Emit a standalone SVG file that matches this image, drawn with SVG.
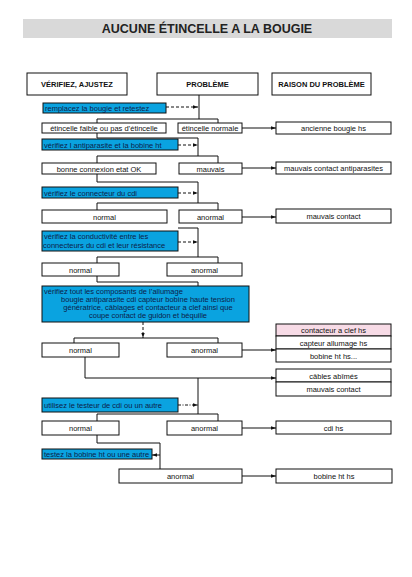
<svg xmlns="http://www.w3.org/2000/svg" width="412" height="577" viewBox="0 0 412 577">
<defs>
<style>
text{font-family:"Liberation Sans",Arial,sans-serif;font-size:7.5px;fill:#111}
.t{font-size:12.5px;font-weight:bold;text-anchor:middle;fill:#222}
.h{font-size:7.5px;font-weight:bold;text-anchor:middle}
.c{text-anchor:middle}
.bt{fill:#0c1d4a}
.box{fill:#fff;stroke:#111;stroke-width:1}
.blue{fill:#0aa3e0;stroke:#111;stroke-width:1}
.pink{fill:#f7dbe6;stroke:#111;stroke-width:1}
.ln{fill:none;stroke:#111;stroke-width:1}
.ds{fill:none;stroke:#111;stroke-width:1;stroke-dasharray:3,2}
</style>
<marker id="ar" viewBox="0 0 6 6" refX="6" refY="3" markerWidth="5" markerHeight="5" orient="auto" markerUnits="userSpaceOnUse">
<path d="M0,1 L6,3 L0,5 z" fill="#111"/>
</marker>
</defs>
<rect width="412" height="577" fill="#fff"/>
<g id="title"><rect x="23" y="19" width="369" height="19" fill="#d9d9d9"/><text class="t" x="207" y="33">AUCUNE ÉTINCELLE A LA BOUGIE</text></g>
<g id="h1"><rect class="box" x="27" y="73" width="100" height="22"/><text class="h" x="77" y="87">VÉRIFIEZ, AJUSTEZ</text></g>
<g id="h2"><rect class="box" x="157" y="73" width="101" height="22"/><text class="h" x="207.5" y="87">PROBLÈME</text></g>
<g id="h3"><rect class="box" x="272" y="73" width="99" height="22"/><text class="h" x="321.5" y="87">RAISON DU PROBLÈME</text></g>

<g id="connectors">
<path class="ln" d="M199,95 V119 M97,119 H218 M97,119 V123 M218,119 V123"/>
<path class="ds" d="M166,107 H198" marker-end="url(#ar)"/>
<path class="ln" d="M242,128 H276" marker-end="url(#ar)"/>
<path class="ln" d="M97,133 V138 H198 V156 M97,156 H218 M97,156 V163 M218,156 V163"/>
<path class="ds" d="M178,145 H198" marker-end="url(#ar)"/>
<path class="ln" d="M242,168 H276" marker-end="url(#ar)"/>
<path class="ln" d="M97,174 V182 H198 V203 M97,203 H218 M97,203 V210 M218,203 V210"/>
<path class="ds" d="M178,193 H198" marker-end="url(#ar)"/>
<path class="ln" d="M242,217 H276" marker-end="url(#ar)"/>
<path class="ln" d="M178,228 H198 V257 M97,257 H218 M97,257 V263 M218,257 V263"/>
<path class="ds" d="M178,242 H198" marker-end="url(#ar)"/>
<path class="ln" d="M97,276 V282 H198 V286"/>
<path class="ds" d="M143,322 V338" marker-end="url(#ar)"/>
<path class="ln" d="M74,338 H218 M74,338 V343 M218,338 V343"/>
<path class="ln" d="M242,350 H276" marker-end="url(#ar)"/>
<path class="ln" d="M85,357 V378 H276" marker-end="url(#ar)"/>
<path class="ln" d="M198,378 V414 M97,414 H218 M97,414 V421 M218,414 V421"/>
<path class="ds" d="M178,405 H198" marker-end="url(#ar)" style="stroke-dasharray:3,1.5,1,1.5"/>
<path class="ln" d="M242,428 H276" marker-end="url(#ar)"/>
<path class="ln" d="M97,435 V443 H160 V469"/>
<path class="ln" d="M160,455 H152" marker-end="url(#ar)"/>
<path class="ln" d="M242,476 H276" marker-end="url(#ar)"/>
</g>

<g id="b1"><rect class="blue" x="43" y="103" width="123" height="10"/><text class="bt" x="45" y="111">remplacez la bougie et retestez</text></g>
<g id="r1a"><rect class="box" x="42" y="123" width="124" height="10"/><text class="c" x="104" y="131">étincelle faible ou pas d’étincelle</text></g>
<g id="r1b"><rect class="box" x="178" y="123" width="64" height="10"/><text class="c" x="210" y="131">étincelle normale</text></g>
<g id="res1"><rect class="box" x="276" y="122" width="115" height="12"/><text class="c" x="333.5" y="131">ancienne bougie hs</text></g>

<g id="b2"><rect class="blue" x="42" y="139" width="136" height="11"/><text class="bt" x="44" y="147.5">vérifiez l antiparasite et la bobine ht</text></g>
<g id="r2a"><rect class="box" x="42" y="163" width="114" height="11"/><text class="c" x="99" y="171.5">bonne connexion etat OK</text></g>
<g id="r2b"><rect class="box" x="179" y="163" width="63" height="11"/><text class="c" x="210.5" y="171.5">mauvais</text></g>
<g id="res2"><rect class="box" x="276" y="162" width="115" height="12"/><text class="c" x="333.5" y="171">mauvais contact antiparasites</text></g>

<g id="b3"><rect class="blue" x="42" y="187" width="136" height="11"/><text class="bt" x="44" y="195.5">vérifiez le connecteur du cdi</text></g>
<g id="r3a"><rect class="box" x="42" y="210" width="125" height="13"/><text class="c" x="104.5" y="219.5">normal</text></g>
<g id="r3b"><rect class="box" x="179" y="210" width="63" height="13"/><text class="c" x="210.5" y="219.5">anormal</text></g>
<g id="res3"><rect class="box" x="276" y="209" width="115" height="14"/><text class="c" x="333.5" y="219">mauvais contact</text></g>

<g id="b4"><rect class="blue" x="42" y="231" width="136" height="20"/><text class="bt" x="44" y="239">vérifiez la conductivité entre les</text><text class="bt" x="43" y="248">connecteurs du cdi et leur résistance</text></g>
<g id="r4a"><rect class="box" x="42" y="263" width="77" height="13"/><text class="c" x="80.5" y="272.5">normal</text></g>
<g id="r4b"><rect class="box" x="167" y="263" width="75" height="13"/><text class="c" x="204.5" y="272.5">anormal</text></g>

<g id="b5"><rect class="blue" x="42" y="286" width="207" height="36"/>
<text class="bt" x="44" y="293.5">vérifiez tout les composants de l’allumage</text>
<text class="bt c" x="148" y="301.5">bougie antiparasite cdi capteur bobine haute tension</text>
<text class="bt c" x="148" y="309.5">génératrice, câblages et contacteur a clef ainsi que</text>
<text class="bt c" x="148" y="317.5">coupe contact de guidon et béquille</text></g>
<g id="r5a"><rect class="box" x="42" y="343" width="77" height="14"/><text class="c" x="80.5" y="353">normal</text></g>
<g id="r5b"><rect class="box" x="167" y="343" width="75" height="14"/><text class="c" x="204.5" y="353">anormal</text></g>
<g id="res5"><rect class="pink" x="276" y="324" width="115" height="12"/><rect class="box" x="276" y="336" width="115" height="13"/><rect class="box" x="276" y="349" width="115" height="13"/>
<text class="c" x="333.5" y="333">contacteur a clef hs</text><text class="c" x="333.5" y="345.5">capteur allumage hs</text><text class="c" x="333.5" y="358.5">bobine ht hs...</text></g>
<g id="res6"><rect class="box" x="276" y="369" width="115" height="13"/><rect class="box" x="276" y="382" width="115" height="14"/>
<text class="c" x="333.5" y="378.5">câbles abîmés</text><text class="c" x="333.5" y="392">mauvais contact</text></g>

<g id="b6"><rect class="blue" x="42" y="398" width="136" height="14"/><text class="bt" x="44" y="408">utilisez le testeur de cdi ou un autre</text></g>
<g id="r6a"><rect class="box" x="42" y="421" width="77" height="14"/><text class="c" x="80.5" y="431">normal</text></g>
<g id="r6b"><rect class="box" x="167" y="421" width="75" height="14"/><text class="c" x="204.5" y="431">anormal</text></g>
<g id="res7"><rect class="box" x="276" y="421" width="115" height="13"/><text class="c" x="333.5" y="430.5">cdi hs</text></g>

<g id="b7"><rect class="blue" x="42" y="449" width="110" height="10"/><text class="bt" x="44" y="457">testez la bobine ht ou une autre</text></g>
<g id="r7"><rect class="box" x="119" y="469" width="123" height="14"/><text class="c" x="180.5" y="479">anormal</text></g>
<g id="res8"><rect class="box" x="276" y="469" width="116" height="14"/><text class="c" x="334" y="479">bobine ht hs</text></g>
</svg>
